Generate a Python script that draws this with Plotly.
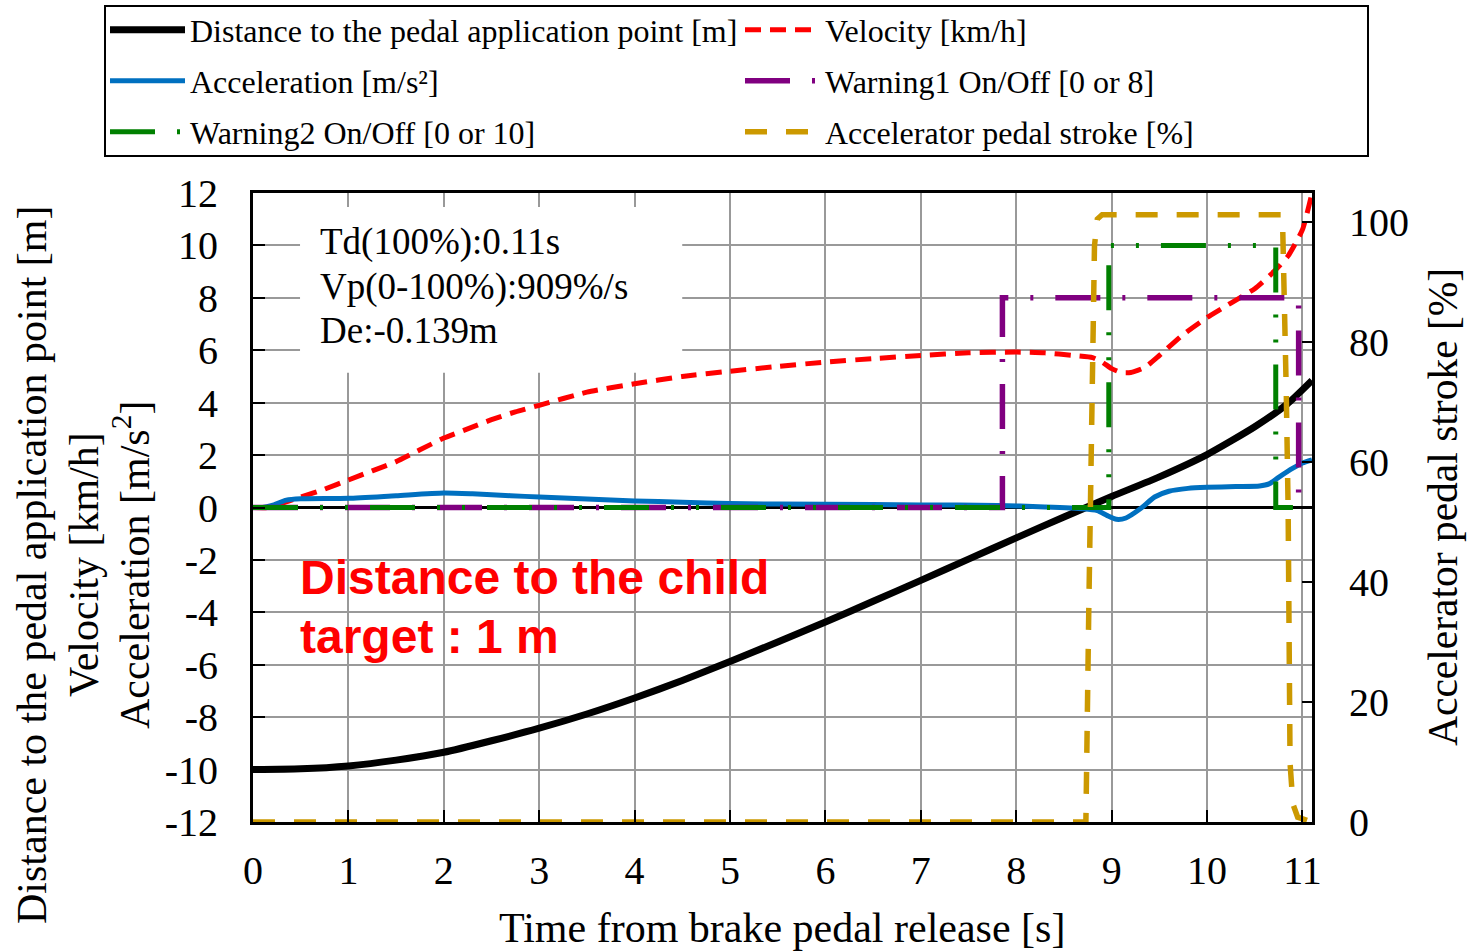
import plotly.graph_objects as go

# ---------------- data ----------------
dist_t = [0, 0.5, 1, 1.5, 2, 2.5, 3, 3.5, 4, 4.5, 5, 5.5, 6, 6.5, 7, 7.5, 8, 8.5, 9, 9.5, 10, 10.5, 10.84, 11.1]
dist_v = [-10.0, -9.97, -9.86, -9.64, -9.34, -8.9, -8.42, -7.88, -7.27, -6.6, -5.88, -5.13, -4.37, -3.58, -2.78, -1.97, -1.16, -0.36, 0.42, 1.17, 2.02, 3.08, 3.95, 4.85]

vel_t = [0, 0.15, 0.3, 0.5, 0.75, 1, 1.25, 1.5, 1.75, 2, 2.25, 2.5, 2.75, 3, 3.5, 4, 4.5, 5, 5.5, 6, 6.5, 7, 7.5,
         8, 8.3, 8.6, 8.8, 8.9, 9.0, 9.1, 9.2, 9.35, 9.5, 9.75, 10, 10.25, 10.5, 10.7, 10.85, 11.0, 11.1]
vel_v = [0, 0, 0.15, 0.4, 0.7, 1.05, 1.4, 1.75, 2.2, 2.65, 3.0, 3.35, 3.65, 3.9, 4.4, 4.72, 5.0, 5.2, 5.38, 5.55, 5.68, 5.8, 5.9,
         5.93, 5.9, 5.8, 5.72, 5.55, 5.3, 5.15, 5.15, 5.35, 5.8, 6.6, 7.25, 7.8, 8.35, 9.0, 9.6, 10.6, 12.0]

acc_t = [0, 0.1, 0.2, 0.35, 0.5, 1, 1.5, 2, 2.3, 2.7, 3, 3.5, 4, 4.5, 5, 6, 7, 7.8, 8.3, 8.7, 8.85, 8.95, 9.05,
         9.15, 9.3, 9.45, 9.6, 9.8, 10, 10.3, 10.55, 10.65, 10.75, 10.9, 11.0, 11.1]
acc_v = [0, 0, 0.08, 0.28, 0.33, 0.35, 0.45, 0.55, 0.52, 0.45, 0.4, 0.32, 0.25, 0.2, 0.15, 0.12, 0.1, 0.08, 0.02, -0.05, -0.12, -0.3, -0.45,
         -0.4, -0.05, 0.4, 0.62, 0.73, 0.77, 0.8, 0.82, 0.9, 1.15, 1.5, 1.7, 1.82]

warn1_t = [0, 7.855, 7.855, 10.96, 10.96, 11.0]
warn1_v = [0, 0, 8, 8, 0, 0]

warn2_t = [0, 8.97, 8.97, 10.72, 10.72, 10.9]
warn2_v = [0, 0, 10, 10, 0, 0]

pedal_t = [0, 8.73, 8.76, 8.78, 8.80, 8.82, 8.85, 8.9, 10.79, 10.81, 10.83, 10.85, 10.86, 10.87, 10.9, 10.95, 11.1]
pedal_v = [0, 0, 35, 60, 85, 96, 100.5, 101.2, 101.2, 88.7, 72, 52, 29, 9.8, 3, 0.8, 0]

x_ticks = list(range(0, 12))
y_ticks = list(range(-12, 13, 2))
y2_ticks = [0, 20, 40, 60, 80, 100]

info_lines = ["Td(100%):0.11s", "Vp(0-100%):909%/s", "De:-0.139m"]
child_lines = ["Distance to the child", "target : 1 m"]

SERIF = "Liberation Serif"

fig = go.Figure()
fig.add_trace(go.Scatter(x=dist_t, y=dist_v, mode="lines", name="Distance to the pedal application point [m]",
                         line=dict(color="black", width=7, shape="spline", smoothing=0.6), legend="legend"))
fig.add_trace(go.Scatter(x=vel_t, y=vel_v, mode="lines", name="Velocity [km/h]",
                         line=dict(color="#ff0000", width=5, dash="16px,9px", shape="spline", smoothing=0.5), legend="legend"))
fig.add_trace(go.Scatter(x=acc_t, y=acc_v, mode="lines", name="Acceleration [m/s²]",
                         line=dict(color="#0070c0", width=5, shape="spline", smoothing=0.6), legend="legend2"))
fig.add_trace(go.Scatter(x=warn1_t, y=warn1_v, mode="lines", name="Warning1 On/Off [0 or 8]",
                         line=dict(color="#800080", width=5.5, dash="45px,22px,3px,22px"), legend="legend2"))
fig.add_trace(go.Scatter(x=warn2_t, y=warn2_v, mode="lines", name="Warning2 On/Off [0 or 10]",
                         line=dict(color="#008000", width=5, dash="45px,22px,3px,22px,3px,22px"), legend="legend3"))
fig.add_trace(go.Scatter(x=pedal_t, y=pedal_v, mode="lines", name="Accelerator pedal stroke [%]", yaxis="y2",
                         line=dict(color="#cc9900", width=5.5, dash="22px,19px"), legend="legend3"))

ax_common = dict(showline=True, linecolor="black", linewidth=3, ticks="inside", tickcolor="black", tickwidth=2,
                 tickfont=dict(family=SERIF, size=40, color="black"))

fig.update_layout(
    width=1468, height=951,
    margin=dict(l=253, r=156, t=193, b=129, autoexpand=False),
    paper_bgcolor="white", plot_bgcolor="white",
    font=dict(family=SERIF, color="black"),
    xaxis=dict(range=[0, 11.1], tickvals=x_ticks, ticktext=[str(v) for v in x_ticks], showgrid=True,
               gridcolor="#999999", gridwidth=2, zeroline=False, mirror=True, ticklen=12, ticklabelstandoff=11,
               **ax_common),
    yaxis=dict(range=[-12, 12], tickvals=y_ticks, ticktext=[str(v) for v in y_ticks], showgrid=True,
               gridcolor="#999999", gridwidth=2, zeroline=True, zerolinecolor="black", zerolinewidth=3,
               mirror=True, ticklen=12, ticklabelstandoff=24, **ax_common),
    yaxis2=dict(range=[0, 629 / 6.0], tickvals=y2_ticks, ticktext=[str(v) for v in y2_ticks], overlaying="y",
                side="right", showgrid=False, zeroline=False, ticklen=10, ticklabelstandoff=26, **ax_common),
    showlegend=True,
)

leg_common = dict(orientation="h", xanchor="left", yanchor="middle", bgcolor="rgba(0,0,0,0)", borderwidth=0,
                  font=dict(family=SERIF, size=32, color="black"), itemwidth=75, entrywidth=545,
                  xref="paper", yref="paper")
fig.update_layout(
    legend=dict(x=(105 - 253) / 1059, y=(822 - 30) / 629, **leg_common),
    legend2=dict(x=(105 - 253) / 1059, y=(822 - 81) / 629, **leg_common),
    legend3=dict(x=(105 - 253) / 1059, y=(822 - 132) / 629, **leg_common),
)

# legend frame
fig.add_shape(type="rect", xref="paper", yref="paper", x0=(105 - 253) / 1059, x1=(1368 - 253) / 1059,
              y0=(822 - 156) / 629, y1=(822 - 6) / 629, line=dict(color="black", width=2), fillcolor="rgba(0,0,0,0)")
# white background behind info text
fig.add_shape(type="rect", xref="x", yref="y", x0=0.493, x1=4.499, y0=5.14, y1=11.47, layer="between",
              line=dict(width=0), fillcolor="white")

for txt, yv in zip(info_lines, [10.13, 8.42, 6.74]):
    fig.add_annotation(x=0.68, y=yv, xref="x", yref="y", text=txt, showarrow=False, xanchor="left", yanchor="middle",
                       font=dict(family=SERIF, size=37, color="black"))
for txt, yv in zip(child_lines, [-2.67, -4.91]):
    fig.add_annotation(x=0.472, y=yv, xref="x", yref="y", text="<b>" + txt + "</b>", showarrow=False,
                       xanchor="left", yanchor="middle", font=dict(family="Liberation Sans", size=48, color="#ff0000"))

# axis titles
ytitle = ["Distance to the pedal application point [m]", "Velocity [km/h]", "Acceleration [m/s<sup>2</sup>]"]
for txt, px in zip(ytitle, [32, 84, 131]):
    fig.add_annotation(x=(px - 253) / 1059, y=(822 - 565) / 629, xref="paper", yref="paper", text=txt,
                       showarrow=False, textangle=-90, xanchor="center", yanchor="middle",
                       font=dict(family=SERIF, size=42, color="black"))
fig.add_annotation(x=(1443 - 253) / 1059, y=(822 - 507) / 629, xref="paper", yref="paper",
                   text="Accelerator pedal stroke [%]", showarrow=False, textangle=-90, xanchor="center",
                   yanchor="middle", font=dict(family=SERIF, size=41.5, color="black"))
fig.add_annotation(x=0.4995, y=(822 - 928) / 629, xref="paper", yref="paper", text="Time from brake pedal release [s]",
                   showarrow=False, xanchor="center", yanchor="middle", font=dict(family=SERIF, size=42, color="black"))

fig.write_html("out.html", config={"displayModeBar": False},
               post_script="document.body.style.margin='0px';document.body.style.overflow='hidden';")
